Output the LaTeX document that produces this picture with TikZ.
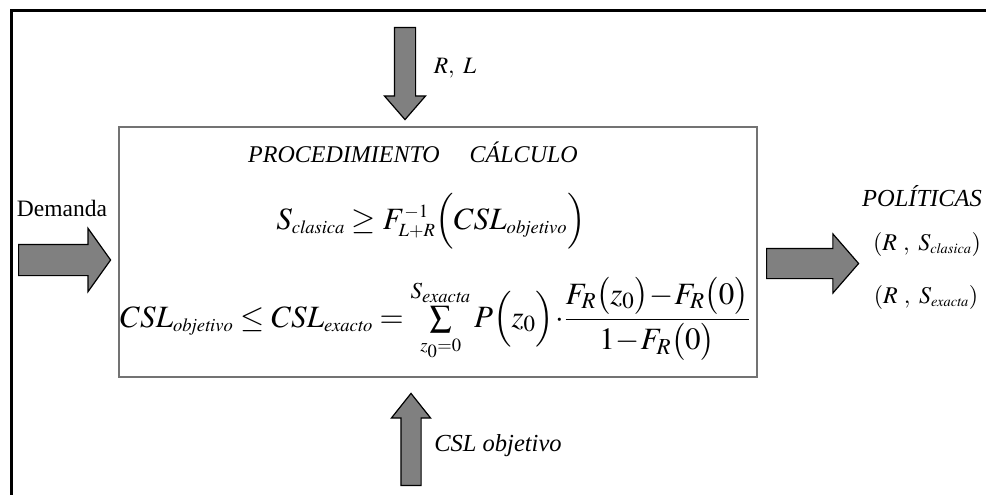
\documentclass[tikz,border=0pt]{standalone}
\usepackage{mathptmx}
\usepackage{amsmath}
\usepackage[no-math]{fontspec}
\setmainfont{Liberation Serif}
\usetikzlibrary{shapes.arrows}

% small subscripts as in the original equation editor
\newcommand{\sub}[1]{{\scriptscriptstyle\mathit{#1}}}

\begin{document}
\begin{tikzpicture}[
  x=1pt, y=-1pt,
  blockarrow/.style={
    single arrow,
    draw=black,
    fill=gray,
    line width=1.2pt,
    inner xsep=0pt,
    text height=0pt,
    text depth=0pt,
    minimum height=92pt,
    anchor=tail
  },
  procbox/.style={
    draw=black!55,
    line width=1.3pt,
    minimum width=638pt,
    minimum height=250pt
  },
  lbl/.style={
    inner sep=0pt,
    font=\fontsize{24.5}{28}\selectfont
  },
  formula/.style={
    inner sep=0pt,
    anchor=base,
    font=\fontsize{31}{36}\selectfont
  }
]
\useasboundingbox (0,0) rectangle (986,495);

% Outer frame (open at right and bottom)
\draw[line width=3pt] (11.5,495) -- (11.5,10.5) -- (986,10.5);

\node[procbox] (proc) at (438,252) {};

% Inputs and output
\node[blockarrow, rotate=-90, inner ysep=10pt,
  single arrow head extend=10pt, single arrow tip angle=82]
  (inRL) at (405,27) {};
\node[blockarrow, rotate=90, inner ysep=9.5pt,
  single arrow head extend=9.5pt, single arrow tip angle=77]
  (inCSL) at (411,486) {};
\node[blockarrow, inner ysep=15pt,
  single arrow head extend=16pt, single arrow tip angle=109]
  (inDem) at (18,260) {};
\node[blockarrow, inner ysep=14.5pt,
  single arrow head extend=14.5pt, single arrow tip angle=98]
  (outPol) at (766,263.5) {};

\node[lbl, font=\fontsize{23.5}{26}\selectfont] (lRL) at (455,68) {$R,\ L$};
\node[lbl] (lCSL) at (498,446) {\itshape CSL objetivo};
\node[lbl, font=\fontsize{23.5}{26}\selectfont] (lDem) at (62,208) {Demanda};

% Text inside the procedure box
\node[lbl, font=\fontsize{24}{28}\selectfont] (title) at (413,152)
  {\itshape PROCEDIMIENTO\quad\ CÁLCULO};

\node[formula] (eqClas) at (431,229)
  {$S_\sub{clasica} \geq F^{\scriptscriptstyle -1}_{\scriptscriptstyle L+R}
   \Bigl(CSL_\sub{objetivo}\Bigr)$};

\node[formula] (eqExac) at (435,327)
  {$CSL_\sub{objetivo} \leq CSL_\sub{exacto}
   = \sum\limits_{\scriptscriptstyle z_0=0}^{S_\sub{exacta}} P\Bigl(z_0\Bigr)\!\cdot\!
   \dfrac{F_R\bigl(z_0\bigr)\!-\!F_R\bigl(0\bigr)}{1\!-\!F_R\bigl(0\bigr)}$};

% Resulting policies
\node[lbl] (pol) at (922,196) {\itshape POLÍTICAS};
\node[lbl, font=\fontsize{24}{28}\selectfont] (polClas) at (927,244)
  {$(R\ ,\ S_\sub{clasica})$};
\node[lbl, font=\fontsize{24}{28}\selectfont] (polExac) at (926,297)
  {$(R\ ,\ S_\sub{exacta})$};
\end{tikzpicture}
\end{document}
